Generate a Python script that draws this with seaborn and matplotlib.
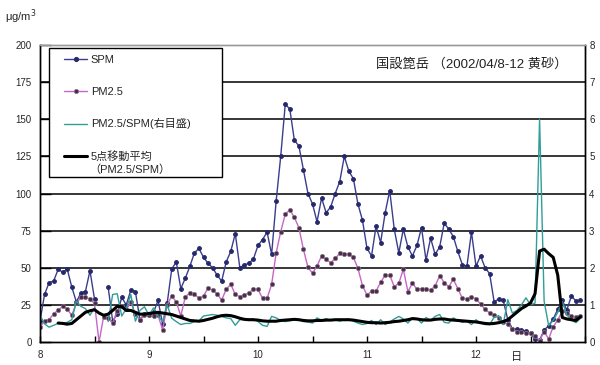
import numpy as np
import pandas as pd
import matplotlib
matplotlib.use("Agg")
import matplotlib.pyplot as plt
from matplotlib.lines import Line2D
from matplotlib.patches import Rectangle
import seaborn as sns

nan = np.nan

# hourly data, 2002/04/08 00h .. 04/12 23h
hours = list(range(120))
spm = [14, 32, 40, 41, 49, 47, 49, 37, 27, 33, 34, 48,
       29, nan, nan, 37, 14, 19, 30, 25, 35, 34, 15, 19,
       18, 20, 28, 12, 26, 49, 54, 36, 43, 51, 60, 63,
       57, 53, 50, 45, 41, 54, 61, 73, 50, 52, 53, 56,
       65, 69, 74, 59, 95, 125, 160, 157, 136, 132, 116, 100,
       93, 81, 97, 87, 91, 100, 108, 125, 115, 110, 93, 82,
       63, 58, 78, 67, 87, 102, 76, 60, 76, 64, 58, 65,
       77, 55, 70, 59, 64, 80, 76, 71, 61, 52, 51, 74,
       51, 58, 50, 46, 27, 29, 28, 15, 9, 8.5, 8, 7.4,
       5.8, 2, 1.3, 8, 11, 15.5, 22, 28, 21.5, 31, 27.6, 28.3]
pm25 = [10, 14, 15, 19, 21.5, 24, 22, 18, 26, 30, 30, 29,
        26, 0, 17, 16, 12.6, 21, 24, 22, 27, 18.6, 15, 18,
        18, 17.7, 18, 8, 25, 31, 27, 17.5, 30.5, 33, 32.5, 29.4,
        31, 36.3, 35, 32.3, 28.3, 35.5, 38.8, 32, 30.5, 31.6, 33.2, 35.5,
        35.5, 29.4, 29.4, 38.8, 60, 74.3, 86, 89, 84, 77, 62.4, 50.3,
        46.3, 51.2, 58, 55.7, 53.4, 56.3, 59.7, 59.3, 59.3, 57, 49.6, 38,
        31.6, 34.3, 34.3, 40.2, 45, 45, 37.3, 39.5, 49, 34, 39.5, 35.5,
        36, 36, 35, 37.7, 44.7, 40, 37.3, 42.2, 36, 29.4, 28.7, 30.5,
        29, 25.6, 22, 19.5, 18, 16, 13.7, 12, 8.5, 7, 6.5, 6.3,
        5.8, 4, 1, 7, 2, 10.3, 14.8, 20.8, 19.3, 17.5, 17, 17.8]
ratio = [0.72, 0.49, 0.40, 0.45, 0.50, 0.51, 0.53, 0.60, 1.10, 0.96, 0.90, 0.72,
         0.92, nan, nan, 0.55, 1.28, 1.30, 0.70, 0.90, 1.28, 0.56, 0.85, 0.95,
         0.72, 0.92, 0.70, 0.55, 1.00, 0.64, 0.55, 0.47, 0.50, 0.50, 0.55, 0.57,
         0.70, 0.72, 0.74, 0.72, 0.69, 0.65, 0.63, 0.45, 0.60, 0.60, 0.62, 0.62,
         0.55, 0.45, 0.42, 0.69, 0.65, 0.58, 0.55, 0.57, 0.60, 0.60, 0.55, 0.54,
         0.51, 0.65, 0.58, 0.63, 0.58, 0.60, 0.56, 0.60, 0.62, 0.56, 0.51, 0.47,
         0.50, 0.58, 0.47, 0.60, 0.47, 0.54, 0.62, 0.69, 0.62, 0.51, 0.65, 0.63,
         0.51, 0.66, 0.58, 0.69, 0.74, 0.53, 0.51, 0.65, 0.58, 0.53, 0.56, 0.47,
         0.60, 0.51, 0.47, 0.47, 0.67, 0.71, 0.47, 1.14, 0.78, 0.85, 1.00, 1.19,
         1.00, 1.05, 6.00, 1.10, 0.44, 0.58, 0.80, 1.08, 0.73, 0.59, 0.52, 0.64]
ma5 = [nan, nan, nan, nan, 0.51, 0.50, 0.48, 0.50, 0.60, 0.70, 0.80, 0.84,
       0.87, 0.78, 0.72, 0.75, 0.85, 0.96, 0.95, 0.85, 0.85, 0.80, 0.75, 0.75,
       0.77, 0.78, 0.80, 0.78, 0.76, 0.74, 0.70, 0.66, 0.62, 0.58, 0.57, 0.56,
       0.58, 0.61, 0.64, 0.68, 0.71, 0.72, 0.71, 0.68, 0.64, 0.61, 0.60, 0.60,
       0.59, 0.57, 0.56, 0.56, 0.56, 0.58, 0.59, 0.60, 0.61, 0.60, 0.58, 0.57,
       0.57, 0.58, 0.58, 0.59, 0.59, 0.60, 0.60, 0.60, 0.60, 0.59, 0.57, 0.55,
       0.53, 0.52, 0.52, 0.51, 0.52, 0.53, 0.55, 0.56, 0.58, 0.60, 0.63, 0.62,
       0.60, 0.59, 0.59, 0.61, 0.62, 0.62, 0.60, 0.59, 0.58, 0.57, 0.56, 0.55,
       0.54, 0.52, 0.50, 0.49, 0.50, 0.52, 0.55, 0.60, 0.70, 0.80, 0.90, 0.97,
       1.05, 1.30, 2.45, 2.50, 2.38, 2.28, 1.80, 0.66, 0.62, 0.60, 0.58, 0.68]

day_ticks = [0, 24, 48, 72, 96]
day_labels = ["8", "9", "10", "11", "12"]
left_ticks = [0, 25, 50, 75, 100, 125, 150, 175, 200]
right_ticks = [0, 1, 2, 3, 4, 5, 6, 7, 8]
series_names = ["SPM", "PM2.5", "PM2.5/SPM(右目盛)", "5点移動平均"]
title_text = "国設箆岳 （2002/04/8-12 黄砂）"


def frame(values, name):
    d = pd.DataFrame({"hour": hours, name: values})
    d["seg"] = d[name].isna().cumsum()
    return d.dropna()


sns.set_theme(style="white")
plt.rcParams["font.family"] = ["Liberation Sans", "Noto Sans CJK JP", "DejaVu Sans"]

W, H = 600, 365
fig = plt.figure(figsize=(6, 3.65), dpi=100)
ax = fig.add_axes([40 / W, 1 - 342 / H, 545 / W, 297 / H])
ax2 = ax.twinx()

c_spm = "#3a3d8c"
c_pm = "#c865c8"
c_ratio = "#2f9d98"

for v in left_ticks[1:-1]:
    ax.axhline(v, color="black", lw=1.1, zorder=0)

spm_style = dict(color=c_spm, lw=1.0, marker="o", markersize=2.7,
                 markerfacecolor="#25286a", markeredgecolor="#25286a")
pm_style = dict(color=c_pm, lw=1.0, marker="o", markersize=3.1,
                markerfacecolor="#4a2c4a", markeredgecolor="#8a7888", markeredgewidth=0.5)

sns.lineplot(data=frame(spm, "spm"), x="hour", y="spm", units="seg", estimator=None,
             ax=ax, legend=False, **spm_style)
sns.lineplot(data=frame(pm25, "pm"), x="hour", y="pm", units="seg", estimator=None,
             ax=ax, legend=False, **pm_style)
sns.lineplot(data=frame(ratio, "ratio"), x="hour", y="ratio", units="seg", estimator=None,
             ax=ax2, color=c_ratio, lw=1.0, legend=False)
sns.lineplot(data=frame(ma5, "ma"), x="hour", y="ma", units="seg", estimator=None,
             ax=ax2, color="black", lw=2.2, legend=False)

ax.set_xlim(0, 120)
ax.set_ylim(0, 200)
ax2.set_ylim(0, 8)
ax.set_xlabel("")
ax.set_ylabel("")
ax2.set_ylabel("")

ax.set_yticks(left_ticks)
ax.set_yticklabels([str(t) for t in left_ticks], fontsize=7)
ax2.set_yticks(right_ticks)
ax2.set_yticklabels([str(t) for t in right_ticks], fontsize=7)
xt = list(range(0, 121, 12))
ax.set_xticks(xt)
ax.set_xticklabels([day_labels[day_ticks.index(t)] if t in day_ticks else "" for t in xt],
                   fontsize=7)
ax.tick_params(axis="y", direction="in", length=8, width=1, color="black", pad=6, left=True)
ax.tick_params(axis="x", direction="in", length=4, width=1, color="black", pad=6, bottom=True)
ax2.tick_params(axis="y", length=0, pad=3, right=True)

for a in (ax, ax2):
    for s in ("left", "bottom", "right"):
        a.spines[s].set_color("black")
        a.spines[s].set_linewidth(1.0)
    a.spines["top"].set_color("#9a9a9a")
    a.spines["top"].set_linewidth(1.0)

ax.text(0.793, 0.933, title_text, transform=ax.transAxes, ha="center", va="center",
        fontsize=9.5, color="#222222")
fig.text(5 / W, 1 - 17 / H, "μg/m$^3$", fontsize=8, ha="left", va="center")
fig.text(517 / W, 1 - 357 / H, "日", fontsize=8, ha="center", va="center")

# legend box
rect = Rectangle((49 / W, 1 - 177 / H), 173 / W, 129 / H, transform=fig.transFigure,
                 facecolor="white", edgecolor="black", lw=1.0, zorder=2)
fig.add_artist(rect)
handles = [
    Line2D([], [], **spm_style),
    Line2D([], [], **pm_style),
    Line2D([], [], color=c_ratio, lw=1.0),
    Line2D([], [], color="black", lw=2.2),
]
leg = fig.legend(handles, series_names, loc="upper left",
                 bbox_to_anchor=(64 / W, 1 - 55 / H), bbox_transform=fig.transFigure,
                 frameon=False, fontsize=8, labelspacing=1.95, handlelength=2.1,
                 handletextpad=0.3, borderpad=0, borderaxespad=0)
leg.set_zorder(5)
fig.text(89 / W, 1 - 170 / H, "（PM2.5/SPM）", fontsize=8, ha="left", va="center",
         zorder=6)

fig.savefig("out.png", dpi=100)
